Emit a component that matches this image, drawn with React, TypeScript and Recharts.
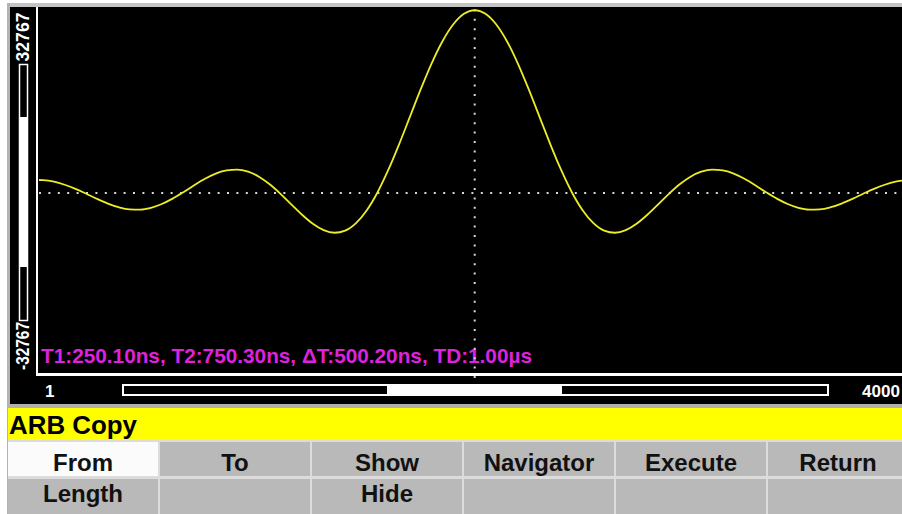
import React from 'react';
import { LineChart, Line, XAxis, YAxis, ReferenceLine } from 'recharts';

// sample positions (record points 1..4000)
const sampleIndex = [
  1, 20, 70, 120, 170, 220, 270, 320, 370, 420, 470, 520, 570, 620, 670, 720, 770, 820, 870, 920, 970,
  1020, 1070, 1120, 1170, 1220, 1270, 1320, 1370, 1420, 1470, 1520, 1570, 1620, 1670, 1720, 1770, 1820, 1870, 1920, 1970,
  2020, 2070, 2120, 2170, 2220, 2270, 2320, 2370, 2420, 2470, 2520, 2570, 2620, 2670, 2720, 2770, 2820, 2870, 2920, 2970,
  3020, 3070, 3120, 3170, 3220, 3270, 3320, 3370, 3420, 3470, 3520, 3570, 3620, 3670, 3720, 3770, 3820, 3870, 3920, 3970,
  4000,
];

// waveform amplitude (DAC codes, -32767..32767)
const amplitude = [
  2300, 2270, 2000, 1460, 730, -140, -1050, -1870, -2520, -2890, -2930, -2620, -1950, -1000, 140, 1360, 2510, 3430, 4010, 4150, 3770,
  2890, 1540, -140, -2010, -3850, -5450, -6580, -7040, -6660, -5340, -3050, 140, 4120, 8670, 13520, 18390, 22930, 26840, 29850, 31750,
  32400, 31750, 29850, 26840, 22930, 18390, 13520, 8670, 4120, 140, -3050, -5340, -6660, -7040, -6580, -5450, -3850, -2010, -140, 1540,
  2890, 3770, 4150, 4010, 3430, 2510, 1360, 140, -1000, -1950, -2620, -2930, -2890, -2520, -1870, -1050, -140, 730, 1460, 2000,
  2190,
];

const yRangeLabels = ['32767', '-32767'];
const xRangeLabels = ['1', '4000'];
const cursorSample = 2020;
const cursorText = 'T1:250.10ns, T2:750.30ns, \u0394T:500.20ns, TD:1.00\u00b5s';
const menuTitle = 'ARB Copy';
const buttonRow1 = ['From', 'To', 'Show', 'Navigator', 'Execute', 'Return'];
const buttonRow2 = ['Length', '', 'Hide', '', '', ''];

const data = sampleIndex.map((s, i) => ({ s, v: amplitude[i] }));

const colLeft = [8, 160, 312, 464, 616, 768];
const colWidth = 150;
const FONT = '"Liberation Sans", Arial, sans-serif';

const abs = (l: number, t: number, w: number, h: number, bg: string): React.CSSProperties => ({
  position: 'absolute', left: l, top: t, width: w, height: h, background: bg,
});

export default function App() {
  return (
    <div style={{ position: 'relative', width: 902, height: 514, background: '#ffffff', overflow: 'hidden' }}>
      <style>{'body{margin:0;}'}</style>
      {/* screen backgrounds */}
      <div style={abs(7, 3, 895, 4, '#c4c4c4')} />
      <div style={abs(7, 3, 3, 511, '#b4b4b4')} />
      <div style={abs(10, 7, 892, 397, '#000000')} />
      <div style={abs(36, 7, 2, 369, '#ffffff')} />
      <div style={abs(36, 373, 866, 3, '#ffffff')} />
      <div style={abs(10, 404, 892, 4, '#b0b0b0')} />
      <div style={abs(8, 408, 894, 32, '#ffff00')} />
      <div style={abs(8, 440, 894, 74, '#dcdcdc')} />
      {colLeft.map((l, i) => (
        <div key={'r1' + i} style={abs(l, 442, i === 5 ? 134 : colWidth, 34, i === 0 ? '#fbfbfb' : '#b9b9b9')} />
      ))}
      {colLeft.map((l, i) => (
        <div key={'r2' + i} style={abs(l, 479, i === 5 ? 134 : colWidth, 35, '#b9b9b9')} />
      ))}
      <div style={{ position: 'absolute', left: 0, top: 0 }}>
        <LineChart
          width={902}
          height={514}
          data={data}
          margin={{ top: 8, left: 39, right: 0, bottom: 136 }}
        >
          <XAxis dataKey="s" type="number" domain={[1, 4000]} hide />
          <YAxis type="number" domain={[-32767, 32767]} hide allowDataOverflow />
          <ReferenceLine y={0} stroke="#d8d8d8" strokeWidth={2} strokeDasharray="2 7.4" />
          <ReferenceLine x={cursorSample} stroke="#d8d8d8" strokeWidth={2} strokeDasharray="2 7.4" />
          <Line
            dataKey="v"
            type="monotone"
            stroke="#ecec28"
            strokeWidth={1.8}
            dot={false}
            isAnimationActive={false}
          />
          {/* left range bar */}
          <rect x={19.5} y={64.5} width={8} height={256} fill="#000" stroke="#fff" strokeWidth={1.5} />
          <rect x={20} y={117} width={7} height={150} fill="#fff" />
          <text
            x={22} y={37} transform="rotate(-90 22 37)" textAnchor="middle" dominantBaseline="central"
            fill="#fff" fontFamily={FONT} fontWeight="bold" fontSize={19} textLength={49} lengthAdjust="spacingAndGlyphs"
          >{yRangeLabels[0]}</text>
          <text
            x={22} y={346} transform="rotate(-90 22 346)" textAnchor="middle" dominantBaseline="central"
            fill="#fff" fontFamily={FONT} fontWeight="bold" fontSize={19} textLength={48} lengthAdjust="spacingAndGlyphs"
          >{yRangeLabels[1]}</text>
          {/* cursor info */}
          <text x={41} y={363} fill="#dd22dd" fontFamily={FONT} fontWeight="bold" fontSize={21}
            textLength={491} lengthAdjust="spacingAndGlyphs">{cursorText}</text>
          {/* navigator bar */}
          <text x={45} y={397} fill="#fff" fontFamily={FONT} fontWeight="bold" fontSize={17}>{xRangeLabels[0]}</text>
          <rect x={123} y={385} width={705} height={10} fill="#000" stroke="#fff" strokeWidth={2} />
          <rect x={387} y={386} width={175} height={8} fill="#fff" />
          <text x={862} y={397} fill="#fff" fontFamily={FONT} fontWeight="bold" fontSize={17}
            textLength={38} lengthAdjust="spacingAndGlyphs">{xRangeLabels[1]}</text>
          {/* menu */}
          <text x={9} y={434} fill="#000" fontFamily={FONT} fontWeight="bold" fontSize={25}
            textLength={128} lengthAdjust="spacingAndGlyphs">{menuTitle}</text>
          {buttonRow1.map((b, i) => (
            <text key={'b1' + i} x={colLeft[i] + (i === 5 ? 70 : 75)} y={471} textAnchor="middle" fill="#111"
              fontFamily={FONT} fontWeight="bold" fontSize={24}>{b}</text>
          ))}
          {buttonRow2.map((b, i) => (
            <text key={'b2' + i} x={colLeft[i] + 75} y={502} textAnchor="middle" fill="#111"
              fontFamily={FONT} fontWeight="bold" fontSize={24}>{b}</text>
          ))}
        </LineChart>
      </div>
    </div>
  );
}
